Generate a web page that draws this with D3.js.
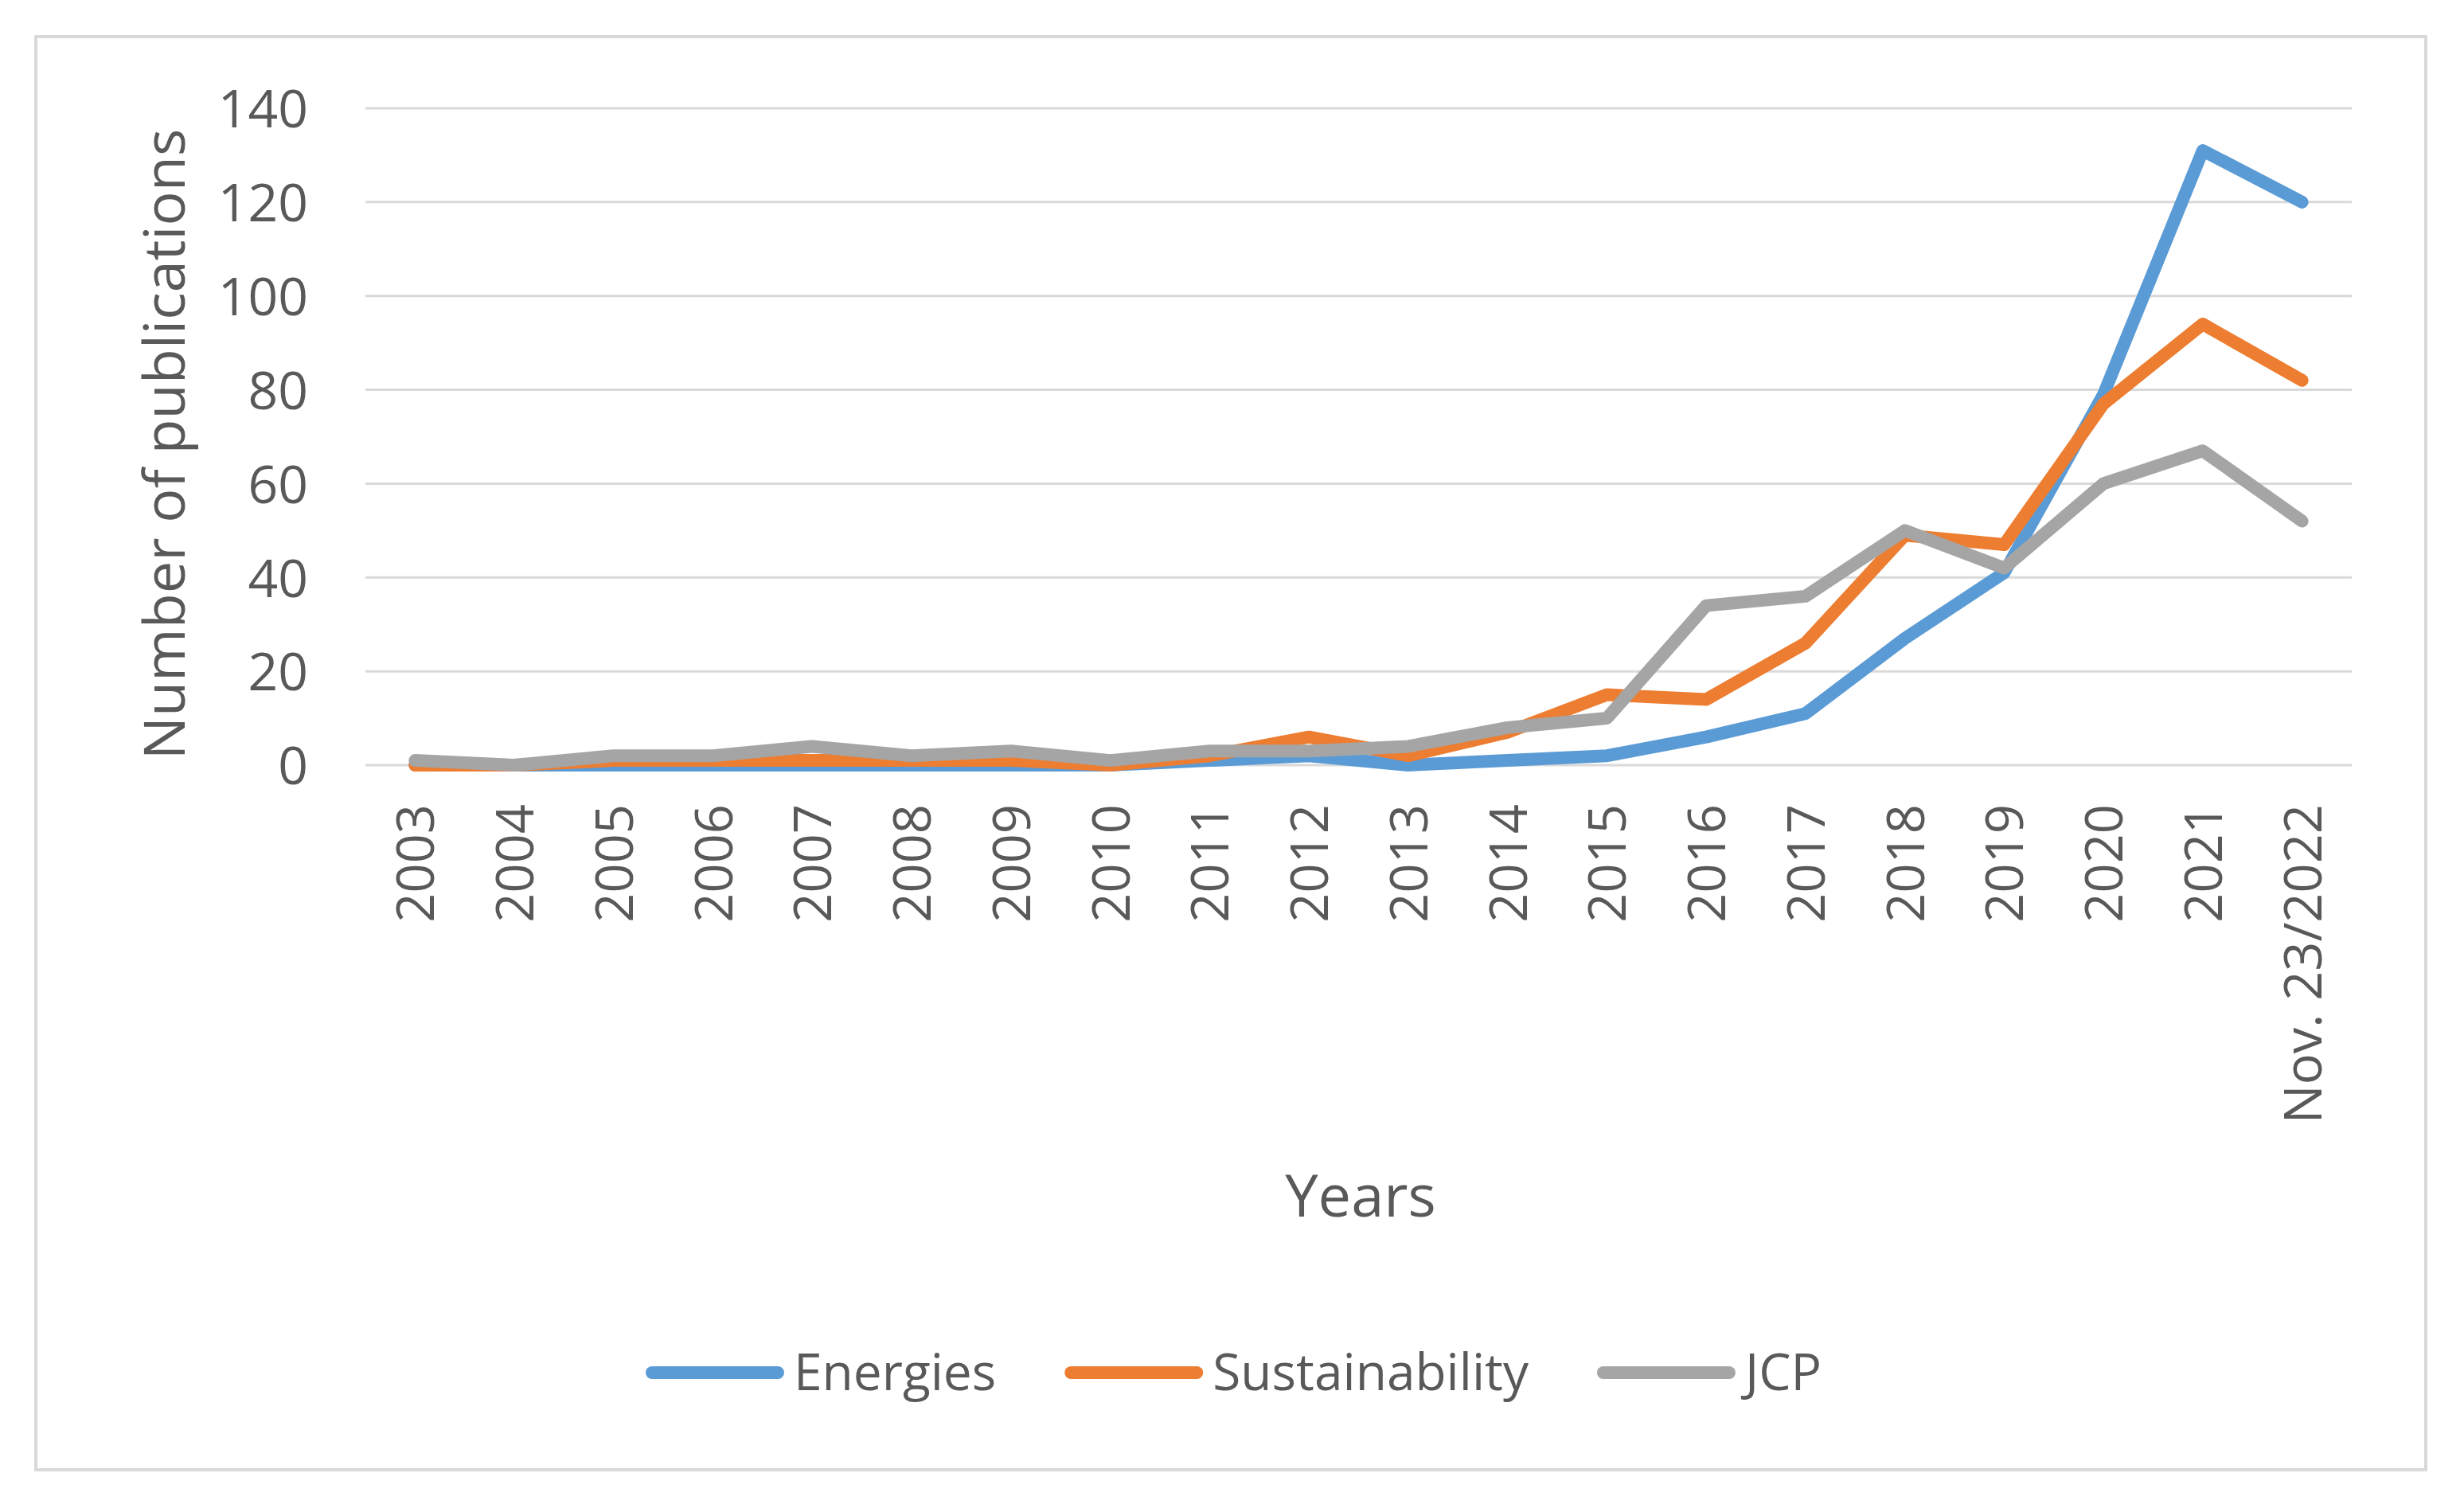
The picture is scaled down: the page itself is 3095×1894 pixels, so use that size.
<!DOCTYPE html>
<html>
<head>
<meta charset="utf-8">
<script src="https://cdn.jsdelivr.net/npm/d3@7"></script>
<style>
  html, body { margin: 0; padding: 0; background: #fff; }
</style>
</head>
<body>
<svg id="chart" width="3095" height="1894"></svg>
<script>
// data
const years = ['2003', '2004', '2005', '2006', '2007', '2008', '2009', '2010', '2011', '2012',
  '2013', '2014', '2015', '2016', '2017', '2018', '2019', '2020', '2021', 'Nov. 23/2022']
const energies = [0, 0, 0, 0, 0, 0, 0, 0, 1, 2, 0, 1, 2, 6, 11, 27, 41, 79, 131, 120]
const sustainability = [0, 0, 1, 1, 1, 1, 1, 0, 2, 6, 2, 7, 15, 14, 26, 49, 47, 77, 94, 82]
const jcp = [1, 0, 2, 2, 4, 2, 3, 1, 3, 3, 4, 8, 10, 34, 36, 50, 42, 60, 67, 52]
const yTicks = [0, 20, 40, 60, 80, 100, 120, 140]

const series = [
  {name: 'Energies', values: energies, color: '#5B9BD5'},
  {name: 'Sustainability', values: sustainability, color: '#ED7D31'},
  {name: 'JCP', values: jcp, color: '#A5A5A5'}
]

const textColor = '#595959'
const svg = d3.select('#chart')

// outer chart border
svg.append('rect')
  .attr('x', 45).attr('y', 46)
  .attr('width', 3002).attr('height', 1800)
  .attr('fill', '#fff')
  .attr('stroke', '#D9D9D9')
  .attr('stroke-width', 4)

const x = d3.scalePoint().domain(years).range([459, 2954]).padding(0.5)
const y = d3.scaleLinear().domain([0, 140]).range([961, 136])

// gridlines
svg.append('g')
  .selectAll('line')
  .data(yTicks)
  .join('line')
  .attr('x1', 459).attr('x2', 2954)
  .attr('y1', (d) => y(d)).attr('y2', (d) => y(d))
  .attr('stroke', '#D9D9D9')
  .attr('stroke-width', 3)

// y axis labels
const yAxis = d3.axisLeft(y).tickValues(yTicks).tickSize(0).tickPadding(0)
svg.append('g')
  .attr('transform', 'translate(387,0)')
  .call(yAxis)
  .call((g) => g.select('.domain').remove())
  .call((g) => g.selectAll('text')
    .attr('fill', textColor)
    .attr('font-family', 'Open Sans')
    .attr('font-size', 66)
    .attr('dy', '0.36em'))

// x axis labels (rotated)
const xAxis = d3.axisBottom(x).tickSize(0).tickPadding(0)
svg.append('g')
  .attr('transform', 'translate(0,1010)')
  .call(xAxis)
  .call((g) => g.select('.domain').remove())
  .call((g) => g.selectAll('text')
    .attr('fill', textColor)
    .attr('font-family', 'Open Sans')
    .attr('font-size', 65)
    .attr('text-anchor', 'end')
    .attr('transform', 'rotate(-90)')
    .attr('x', 0)
    .attr('y', 0)
    .attr('dy', '0.36em'))

// lines
const line = d3.line()
  .x((d, i) => x(years[i]))
  .y((d) => y(d))

svg.append('g')
  .selectAll('path')
  .data(series)
  .join('path')
  .attr('d', (d) => line(d.values))
  .attr('fill', 'none')
  .attr('stroke', (d) => d.color)
  .attr('stroke-width', 16)
  .attr('stroke-linejoin', 'round')
  .attr('stroke-linecap', 'round')

// axis titles
svg.append('text')
  .attr('transform', 'translate(232,558) rotate(-90)')
  .attr('text-anchor', 'middle')
  .attr('fill', textColor)
  .attr('font-family', 'Open Sans')
  .attr('font-size', 72)
  .text('Number of publications')

svg.append('text')
  .attr('x', 1709).attr('y', 1528)
  .attr('text-anchor', 'middle')
  .attr('fill', textColor)
  .attr('font-family', 'Open Sans')
  .attr('font-size', 74)
  .text('Years')

// legend
const legend = svg.append('g').attr('transform', 'translate(0,1724)')
let lx = 811
series.forEach((s) => {
  legend.append('line')
    .attr('x1', lx + 8).attr('x2', lx + 166)
    .attr('y1', 0).attr('y2', 0)
    .attr('stroke', s.color)
    .attr('stroke-width', 16)
    .attr('stroke-linecap', 'round')
  const t = legend.append('text')
    .attr('x', lx + 186).attr('y', 0)
    .attr('dy', '0.35em')
    .attr('fill', textColor)
    .attr('font-family', 'Open Sans')
    .attr('font-size', 64)
    .text(s.name)
  lx += 186 + t.node().getComputedTextLength() + 86
})
</script>
</body>
</html>
